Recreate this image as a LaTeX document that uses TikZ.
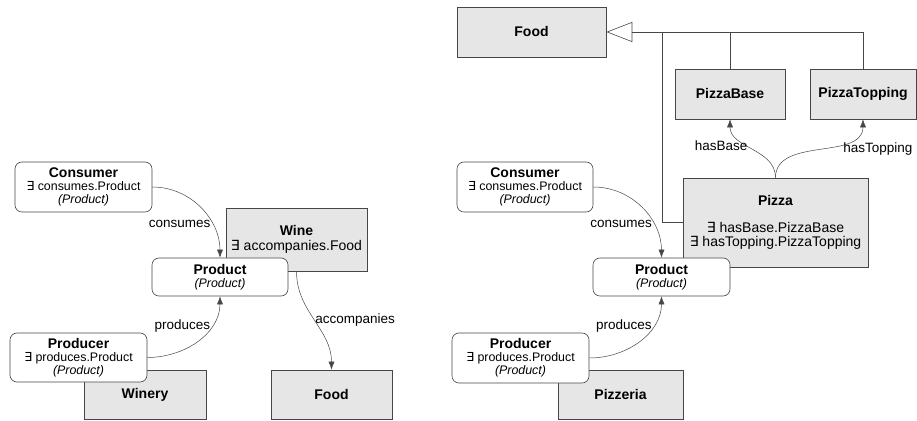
\documentclass[tikz,border=0pt]{standalone}
\usepackage{fontspec}
\setmainfont{Liberation Sans}
\newfontfamily\dejavu{DejaVu Sans}
\usetikzlibrary{arrows.meta,positioning}
\definecolor{boxgray}{RGB}{230,230,230}
\definecolor{linegray}{RGB}{70,70,70}
\newcommand{\exq}{{\dejavu ∃}}
\newcommand{\ttl}[1]{{\fontsize{14}{15}\selectfont\bfseries #1}}

\begin{document}
\begin{tikzpicture}[x=1pt, y=1pt,
  cls/.style={rectangle, rounded corners=7pt, draw=linegray, fill=white, align=center, font=\fontsize{12.4}{13}\selectfont, inner sep=0pt, line width=0.6pt},
  gbox/.style={rectangle, draw=linegray, fill=boxgray, align=center, font=\fontsize{14}{14.5}\selectfont, inner sep=0pt, line width=0.6pt},
  rel/.style={-{Latex[length=8pt,width=6pt]}, line width=0.5pt, draw=linegray},
  lbl/.style={font=\fontsize{13.5}{14}\selectfont, inner sep=1pt, text=black},
  isa/.style={line width=0.6pt, draw=linegray}
]
\useasboundingbox (0,0) rectangle (917,420);

% left model: wine
\node[gbox, minimum width=141pt, minimum height=63pt] (wine) at (296.5,180.5) {\ttl{Wine}\\\exq{} accompanies.Food};
\node[cls, minimum width=137pt, minimum height=50pt] (cons1) at (83.5,233) {\ttl{Consumer}\\\exq{} consumes.Product\\\textit{(Product)}};
\node[cls, minimum width=136pt, minimum height=38pt] (prod1) at (220,143) {\ttl{Product}\\\textit{(Product)}};
\node[gbox, minimum width=122pt, minimum height=49pt] (winery) at (145,25.5) {\ttl{Winery}};
\node[cls, minimum width=137pt, minimum height=49pt] (prodr1) at (78.5,62.5) {\ttl{Producer}\\\exq{} produces.Product\\\textit{(Product)}};
\node[gbox, minimum width=121pt, minimum height=49pt] (food1) at (331.5,25.5) {\ttl{Food}};

\draw[rel] (cons1.east) to[out=0, in=90] node[lbl, pos=0.68, left] {consumes} (prod1.north);
\draw[rel] (prodr1.east) to[out=0, in=-90] node[lbl, pos=0.7, left] {produces} (prod1.south);
\draw[rel] (wine.south) to[out=-90, in=90] node[lbl, pos=0.5, right] {accompanies} (food1.north);

% right model: pizza
\node[gbox, minimum width=149pt, minimum height=50pt] (food2) at (531.5,388) {\ttl{Food}};
\node[gbox, minimum width=110pt, minimum height=50pt] (base) at (730,326) {\ttl{PizzaBase}};
\node[gbox, minimum width=106pt, minimum height=50pt] (topping) at (863,326) {\ttl{PizzaTopping}};
\node[gbox, minimum width=185pt, minimum height=89pt] (pizza) at (775.5,197.5) {\ttl{Pizza}\\[12pt]\exq{} hasBase.PizzaBase\\\exq{} hasTopping.PizzaTopping};
\node[cls, minimum width=136pt, minimum height=50pt] (cons2) at (525,233) {\ttl{Consumer}\\\exq{} consumes.Product\\\textit{(Product)}};
\node[cls, minimum width=137pt, minimum height=38pt] (prod2) at (661.5,143) {\ttl{Product}\\\textit{(Product)}};
\node[gbox, minimum width=125pt, minimum height=49pt] (pizzeria) at (620.5,25.5) {\ttl{Pizzeria}};
\node[cls, minimum width=137pt, minimum height=50pt] (prodr2) at (520.5,62) {\ttl{Producer}\\\exq{} produces.Product\\\textit{(Product)}};

\coordinate[right=26pt of food2.east] (isajoin);
\draw[isa, -{Triangle[open, length=26pt, width=20pt]}] (pizza.west) -- ++(-20,0) |- (food2.east);
\draw[isa] (base.north) |- (isajoin);
\draw[isa] (topping.north) |- (isajoin);

\draw[rel] (pizza.north) to[out=90, in=-90] node[lbl, pos=0.56, left] {hasBase} (base.south);
\draw[rel] (pizza.north) to[out=90, in=-90] node[lbl, pos=0.69, anchor=north west, inner sep=0pt] {hasTopping} (topping.south);
\draw[rel] (cons2.east) to[out=0, in=90] node[lbl, pos=0.68, left] {consumes} (prod2.north);
\draw[rel] (prodr2.east) to[out=0, in=-90] node[lbl, pos=0.7, left] {produces} (prod2.south);
\end{tikzpicture}
\end{document}
